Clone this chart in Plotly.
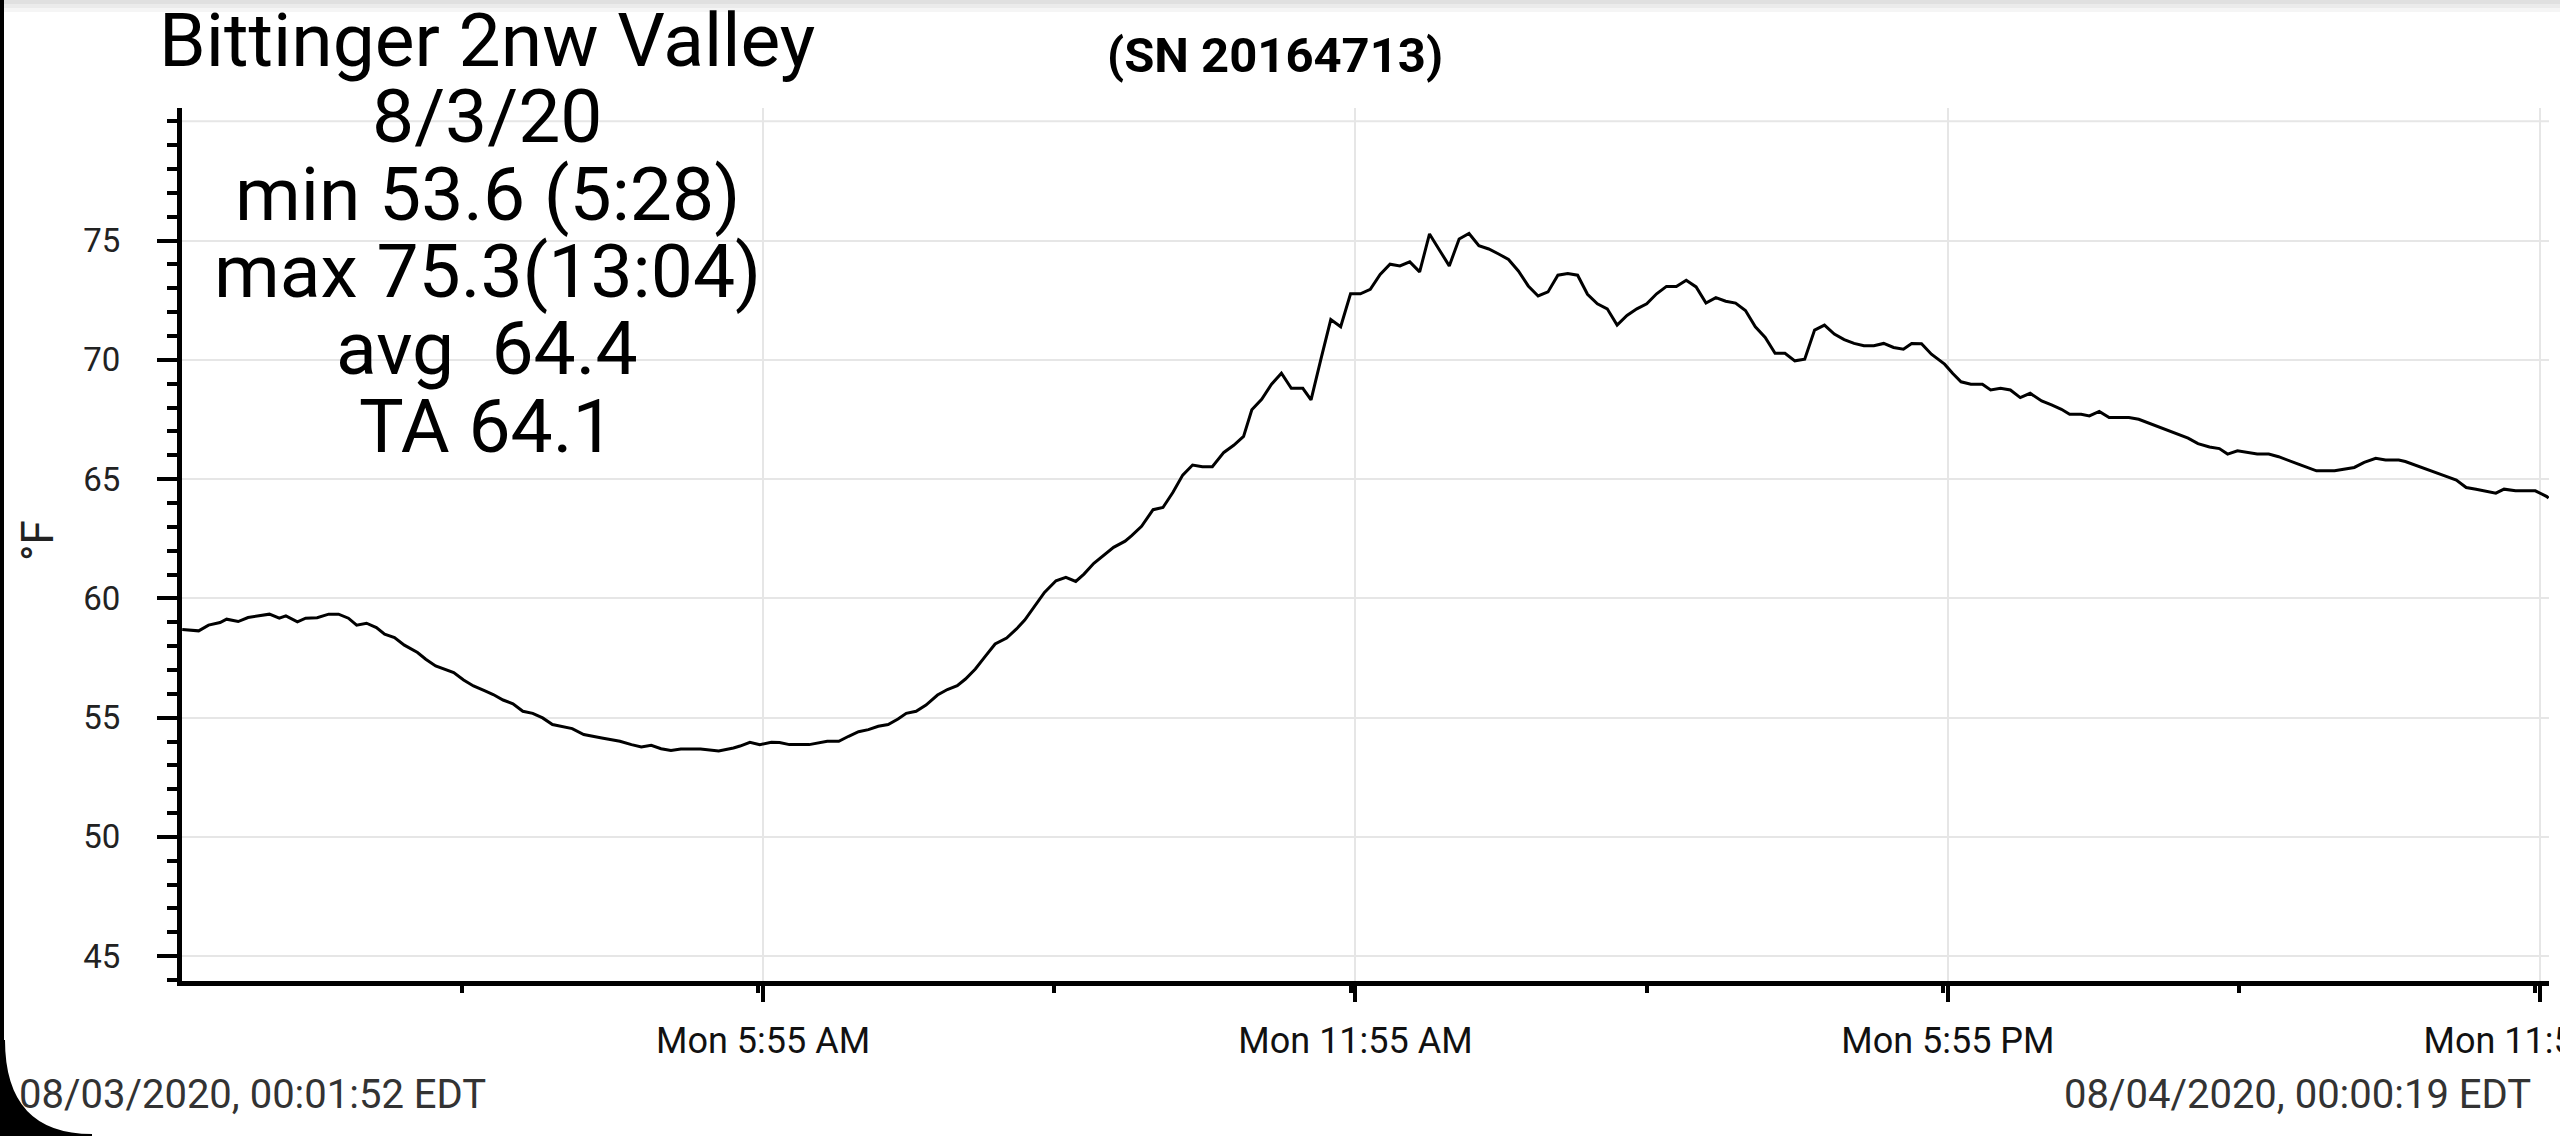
import pandas as pd
import plotly.graph_objects as go

# temperature log, 8/3/2020 (readings)
times = ["00:02", "00:12", "00:18", "00:25", "00:29", "00:36", "00:42", "00:48", "00:55", "01:01",
         "01:05", "01:12", "01:17", "01:24", "01:31", "01:37", "01:43", "01:48", "01:54", "02:00",
         "02:05", "02:11", "02:17", "02:25", "02:30", "02:36", "02:47", "02:53", "02:59", "03:06",
         "03:11", "03:17", "03:23", "03:29", "03:35", "03:41", "03:47", "03:59", "04:06", "04:17",
         "04:28", "04:35", "04:41", "04:47", "04:53", "04:59", "05:05", "05:17", "05:24", "05:28",
         "05:37", "05:41", "05:47", "05:53", "06:00", "06:05", "06:11", "06:23", "06:34", "06:41",
         "06:47", "06:53", "06:59", "07:05", "07:11", "07:17", "07:22", "07:28", "07:34", "07:41",
         "07:47", "07:53", "07:58", "08:04", "08:10", "08:16", "08:23", "08:29", "08:34", "08:40",
         "08:46", "08:53", "08:59", "09:05", "09:10", "09:16", "09:22", "09:28", "09:35", "09:39",
         "09:45", "09:52", "09:58", "10:04", "10:10", "10:16", "10:22", "10:28", "10:35", "10:41",
         "10:47", "10:52", "10:58", "11:04", "11:10", "11:16", "11:23", "11:28", "11:34", "11:40",
         "11:46", "11:52", "11:58", "12:04", "12:10", "12:16", "12:22", "12:28", "12:34", "12:40",
         "12:46", "12:52", "12:58", "13:04", "13:10", "13:16", "13:22", "13:28", "13:34", "13:40",
         "13:46", "13:52", "13:58", "14:04", "14:10", "14:16", "14:22", "14:28", "14:34", "14:40",
         "14:46", "14:52", "14:58", "15:04", "15:10", "15:16", "15:22", "15:28", "15:34", "15:40",
         "15:46", "15:52", "15:58", "16:04", "16:10", "16:16", "16:22", "16:28", "16:34", "16:40",
         "16:46", "16:52", "16:58", "17:04", "17:10", "17:16", "17:22", "17:28", "17:33", "17:39",
         "17:45", "17:53", "17:58", "18:03", "18:09", "18:16", "18:21", "18:27", "18:33", "18:39",
         "18:45", "18:52", "18:58", "19:04", "19:09", "19:16", "19:21", "19:27", "19:33", "19:45",
         "19:51", "19:58", "20:10", "20:21", "20:27", "20:34", "20:40", "20:45", "20:51", "20:57",
         "21:03", "21:10", "21:16", "21:28", "21:39", "21:50", "22:02", "22:08", "22:15", "22:21",
         "22:29", "22:33", "22:44", "22:57", "23:04", "23:10", "23:16", "23:22", "23:28", "23:33",
         "23:40", "23:52", "23:59", "24:00"]
temps = [58.7, 58.64, 58.88, 58.99, 59.13, 59.03, 59.2, 59.27, 59.34, 59.17,
         59.27, 59.02, 59.17, 59.19, 59.34, 59.34, 59.17, 58.88, 58.96, 58.78,
         58.5, 58.36, 58.04, 57.73, 57.45, 57.17, 56.89, 56.58, 56.33, 56.12,
         55.97, 55.74, 55.58, 55.27, 55.18, 54.99, 54.71, 54.54, 54.29, 54.15,
         54.01, 53.87, 53.77, 53.84, 53.7, 53.62, 53.69, 53.69, 53.62, 53.6,
         53.73, 53.81, 53.97, 53.87, 53.97, 53.96, 53.87, 53.87, 54.01, 54.01,
         54.22, 54.41, 54.5, 54.64, 54.71, 54.94, 55.18, 55.27, 55.53, 55.95,
         56.18, 56.34, 56.62, 57.04, 57.57, 58.09, 58.34, 58.72, 59.09, 59.69,
         60.25, 60.74, 60.88, 60.71, 61.02, 61.47, 61.82, 62.14, 62.4, 62.63,
         63.02, 63.72, 63.81, 64.44, 65.17, 65.59, 65.52, 65.52, 66.12, 66.42,
         66.79, 67.91, 68.35, 68.98, 69.44, 68.81, 68.81, 68.32, 70.03, 71.69,
         71.39, 72.77, 72.77, 72.96, 73.58, 74.01, 73.94, 74.11, 73.69, 75.28,
         74.61, 73.94, 75.07, 75.3, 74.79, 74.65, 74.44, 74.21, 73.73, 73.1,
         72.68, 72.85, 73.55, 73.62, 73.55, 72.75, 72.35, 72.14, 71.46, 71.86,
         72.14, 72.35, 72.77, 73.08, 73.08, 73.34, 73.06, 72.38, 72.61, 72.46,
         72.38, 72.07, 71.39, 70.94, 70.28, 70.28, 69.96, 70.03, 71.25, 71.46,
         71.08, 70.85, 70.69, 70.59, 70.59, 70.69, 70.52, 70.45, 70.69, 70.68,
         70.24, 69.82, 69.43, 69.08, 68.98, 68.98, 68.74, 68.81, 68.74, 68.42,
         68.6, 68.28, 68.11, 67.93, 67.72, 67.72, 67.65, 67.84, 67.58, 67.58,
         67.51, 67.33, 67.03, 66.72, 66.49, 66.35, 66.28, 66.05, 66.19, 66.12,
         66.05, 66.05, 65.94, 65.63, 65.35, 65.35, 65.49, 65.7, 65.87, 65.8,
         65.8, 65.74, 65.45, 65.14, 64.96, 64.65, 64.58, 64.51, 64.41, 64.58,
         64.51, 64.51, 64.27, 64.2]

x_ticks = ["05:55", "11:55", "17:55", "23:55"]
x_tick_labels = ["Mon 5:55 AM", "Mon 11:55 AM", "Mon 5:55 PM", "Mon 11:55 PM"]
y_ticks = [45, 50, 55, 60, 65, 70, 75]

summary_lines = ["Bittinger 2nw Valley", "8/3/20", "min 53.6 (5:28)",
                 "max 75.3(13:04)", "avg  64.4", "TA 64.1"]
serial = "(SN 20164713)"
start_label = "08/03/2020, 00:01:52 EDT"
end_label = "08/04/2020, 00:00:19 EDT"

day = pd.Timestamp("2020-08-03")
x = day + pd.to_timedelta([t + ":00" for t in times])
xt = day + pd.to_timedelta([t + ":00" for t in x_ticks])

# page geometry in pixels
W, H = 2560, 1136
L, R, T, B = 182, 11, 108, 155
pw, ph = W - L - R, H - T - B
def px(v): return (v - L) / pw
def py(v): return (H - B - v) / ph

grid = "#e6e6e6"
fnt = "Roboto"

fig = go.Figure()
fig.add_trace(go.Scatter(x=x, y=temps, mode="lines",
                         line=dict(color="black", width=3), showlegend=False))

fig.add_hline(y=80, line_color=grid, line_width=2, layer="below")

fig.update_layout(
    width=W, height=H, template="none",
    margin=dict(l=L, r=R, t=T, b=B),
    paper_bgcolor="white", plot_bgcolor="white",
    font=dict(family=fnt, color="#222"),
    xaxis=dict(range=["2020-08-03 00:01:52", "2020-08-04 00:00:19"],
               tickmode="array", tickvals=xt, ticktext=x_tick_labels,
               ticks="outside", ticklen=16, tickwidth=4, tickcolor="black",
               showline=True, linecolor="black", linewidth=5,
               showgrid=True, gridcolor=grid, gridwidth=2, zeroline=False,
               tickfont=dict(size=36, color="#111"), ticklabelstandoff=8,
               ticklabeloverflow="allow", automargin=False,
               minor=dict(tickmode="linear", tick0="2020-08-03 02:52", dtick=3 * 3600 * 1000,
                          ticks="outside", ticklen=7, tickwidth=4, tickcolor="black",
                          showgrid=False)),
    yaxis=dict(range=[43.96, 80.56], tickmode="array", tickvals=y_ticks,
               ticks="outside", ticklen=20, tickwidth=4, tickcolor="black",
               showline=True, linecolor="black", linewidth=5,
               showgrid=True, gridcolor=grid, gridwidth=2, zeroline=False,
               tickfont=dict(size=33, color="#222"), ticklabelstandoff=30,
               automargin=False,
               minor=dict(tickmode="linear", tick0=0, dtick=1, ticks="outside",
                          ticklen=10, tickwidth=4, tickcolor="black", showgrid=False)),
)

# summary block, top left
line_y = [40, 116, 194, 271, 348, 426]
for txt, yy in zip(summary_lines, line_y):
    fig.add_annotation(text=txt, x=px(487), y=py(yy), xref="paper", yref="paper",
                       xanchor="center", yanchor="middle", showarrow=False,
                       font=dict(size=75, color="black", family=fnt))

fig.add_annotation(text="<b>" + serial + "</b>", x=px(1275), y=py(56), xref="paper", yref="paper",
                   xanchor="center", yanchor="middle", showarrow=False,
                   font=dict(size=49, color="black", family=fnt))
fig.add_annotation(text="°F", x=px(38), y=py(541), xref="paper", yref="paper", textangle=-90,
                   xanchor="center", yanchor="middle", showarrow=False,
                   font=dict(size=44, color="#222", family=fnt))
fig.add_annotation(text=start_label, x=px(17), y=py(1094), xref="paper", yref="paper",
                   xanchor="left", yanchor="middle", showarrow=False,
                   font=dict(size=40, color="#333", family=fnt))
fig.add_annotation(text=end_label, x=px(2533), y=py(1094), xref="paper", yref="paper",
                   xanchor="right", yanchor="middle", showarrow=False,
                   font=dict(size=40, color="#333", family=fnt))

# screen edge: dark left border, rounded bottom-left corner, light shade at top
fig.add_shape(type="rect", xref="paper", yref="paper", x0=px(0), x1=px(4), y0=py(0), y1=py(H),
              fillcolor="black", line_width=0)
fig.add_shape(type="path", xref="paper", yref="paper", fillcolor="black", line_width=0,
              path=f"M {px(0)},{py(1040)} L {px(5)},{py(1040)} Q {px(5)},{py(1134)} {px(92)},{py(1134)} "
                   f"L {px(92)},{py(H)} L {px(0)},{py(H)} Z")
for y0, y1, c in [(0, 4, "#e0e0e0"), (4, 8, "#ebebeb"), (8, 12, "#f5f5f5")]:
    fig.add_shape(type="rect", xref="paper", yref="paper", x0=px(4), x1=px(W), y0=py(y0), y1=py(y1),
                  fillcolor=c, line_width=0)

fig.write_html("out.html", config={"displayModeBar": False},
               post_script="document.body.style.margin='0';document.body.style.overflow='hidden';")
